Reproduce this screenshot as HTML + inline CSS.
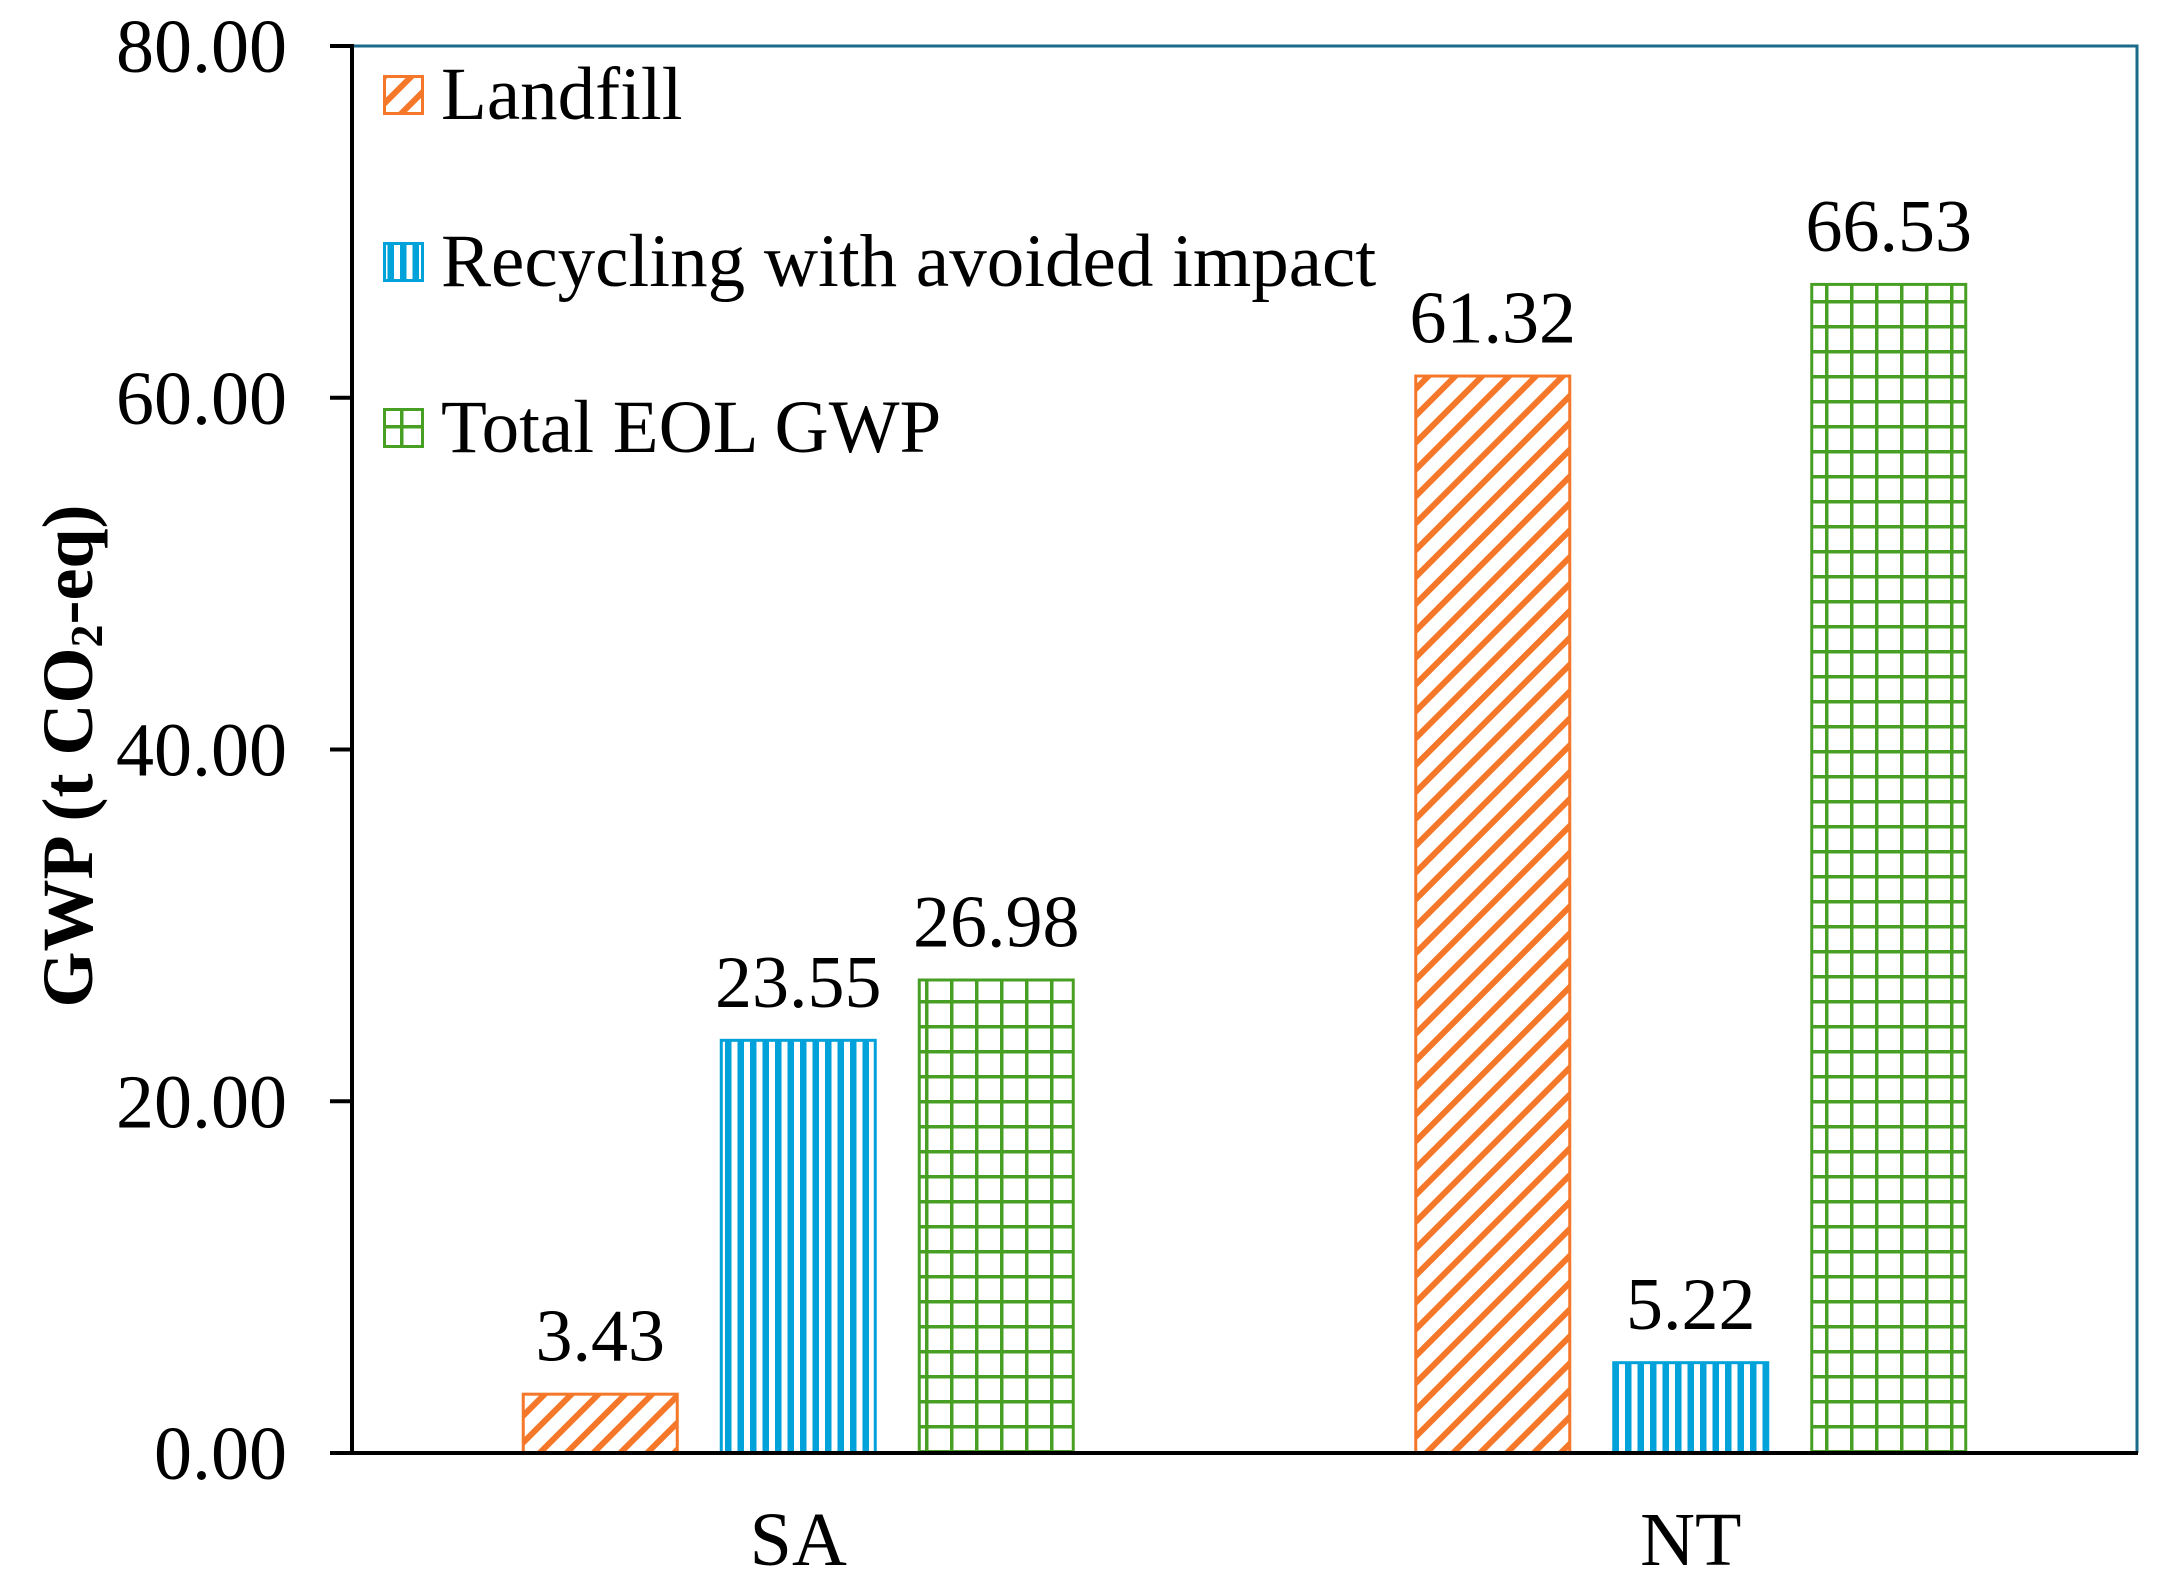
<!DOCTYPE html>
<html><head><meta charset="utf-8"><style>
html,body{margin:0;padding:0;background:#fff}
svg{display:block}
text{font-family:"Liberation Serif","Times New Roman",serif;fill:#000}
</style></head><body>
<svg id="chart" width="2163" height="1587" viewBox="0 0 2163 1587" xmlns="http://www.w3.org/2000/svg">
<defs>
<pattern id="pat-landfill" patternUnits="userSpaceOnUse" width="19" height="19" patternTransform="rotate(45)">
<rect x="0" y="0" width="6" height="19" fill="#F5782A"/></pattern>
<pattern id="pat-recycling" patternUnits="userSpaceOnUse" width="12.5" height="20">
<rect x="0" y="0" width="6.5" height="20" fill="#00A2D9"/></pattern>
<pattern id="pat-total" patternUnits="userSpaceOnUse" width="25" height="25">
<rect x="0" y="0" width="3.5" height="25" fill="#47A024"/><rect x="0" y="0" width="25" height="3.5" fill="#47A024"/></pattern>
</defs>
<g id="plot"></g>
</svg>
<script>
const categories = ["SA", "NT"];
const seriesNames = ["Landfill", "Recycling with avoided impact", "Total EOL GWP"];
const landfill = [3.43, 61.32];
const recycling = [23.55, 5.22];
const total = [26.98, 66.53];
const yTicks = [0, 20, 40, 60, 80];
const yTickLabels = ["0.00", "20.00", "40.00", "60.00", "80.00"];

const NS = "http://www.w3.org/2000/svg";
const svg = document.getElementById("plot");
const L = 352, R = 2137, T = 46, B = 1453, yMax = 80;
const y = v => B - (v / yMax) * (B - T);
const catW = (R - L) / categories.length;
const xCenter = i => L + catW * (i + 0.5);
const barW = 157, gap = 41;
const fills = ["url(#pat-landfill)", "url(#pat-recycling)", "url(#pat-total)"];
const strokes = ["#F5782A", "#00A2D9", "#47A024"];
const series = [landfill, recycling, total];
const keys = ["landfill", "recycling", "total"];

function mk(tag, attrs, txt) {
  const e = document.createElementNS(NS, tag);
  for (const k in attrs) e.setAttribute(k, attrs[k]);
  if (txt !== undefined) e.textContent = txt;
  svg.appendChild(e);
  return e;
}

let fr = mk("path", {d: `M${L} ${T} H${R} V${B}`, fill: "none", stroke: "#1B6A89", "stroke-width": 3});



series.forEach((vals, s) => {
  vals.forEach((v, i) => {
    const x = xCenter(i) + (s - 1) * (barW + gap) - barW / 2;
    const r = mk("rect", {x: x + 1.5, y: y(v) + 1.5, width: barW - 3, height: B - y(v) - 1.5, fill: fills[s], stroke: strokes[s], "stroke-width": 3});
    
    
    const t = mk("text", {x: x + barW / 2, y: y(v) - 32, "font-size": 74, "text-anchor": "middle"}, v.toFixed(2));
    
    
  });
});

let ya = mk("line", {x1: L, y1: T - 2, x2: L, y2: B + 2, stroke: "#000", "stroke-width": 4});


let xa = mk("line", {x1: 330, y1: B, x2: R + 1, y2: B, stroke: "#000", "stroke-width": 4});



yTicks.forEach((v, i) => {
  const tk = mk("line", {x1: 330, y1: y(v), x2: L, y2: y(v), stroke: "#000", "stroke-width": 4});
  
  
  const tl = mk("text", {x: 287, y: y(v) + 26, "font-size": 76, "text-anchor": "end"}, yTickLabels[i]);
  
  
});

categories.forEach((c, i) => {
  const t = mk("text", {x: xCenter(i), y: 1565, "font-size": 76, "text-anchor": "middle"}, c);
  
  
});

const yt = mk("text", {x: 0, y: 0, "font-size": 72, "font-weight": "bold", "text-anchor": "middle", transform: "translate(92,756) rotate(-90)"});


yt.innerHTML = 'GWP (t CO<tspan font-size="46" dy="10">2</tspan><tspan dy="-10">-eq)</tspan>';

const legY = [95, 262, 428];
seriesNames.forEach((n, s) => {
  const sw = mk("rect", {x: 384.5, y: legY[s] - 18.5, width: 38, height: 37, fill: fills[s], stroke: strokes[s], "stroke-width": 3});
  
  
  const lt = mk("text", {x: 441, y: legY[s] + 24, "font-size": 75}, n);
  
  
});
</script>
</body></html>
